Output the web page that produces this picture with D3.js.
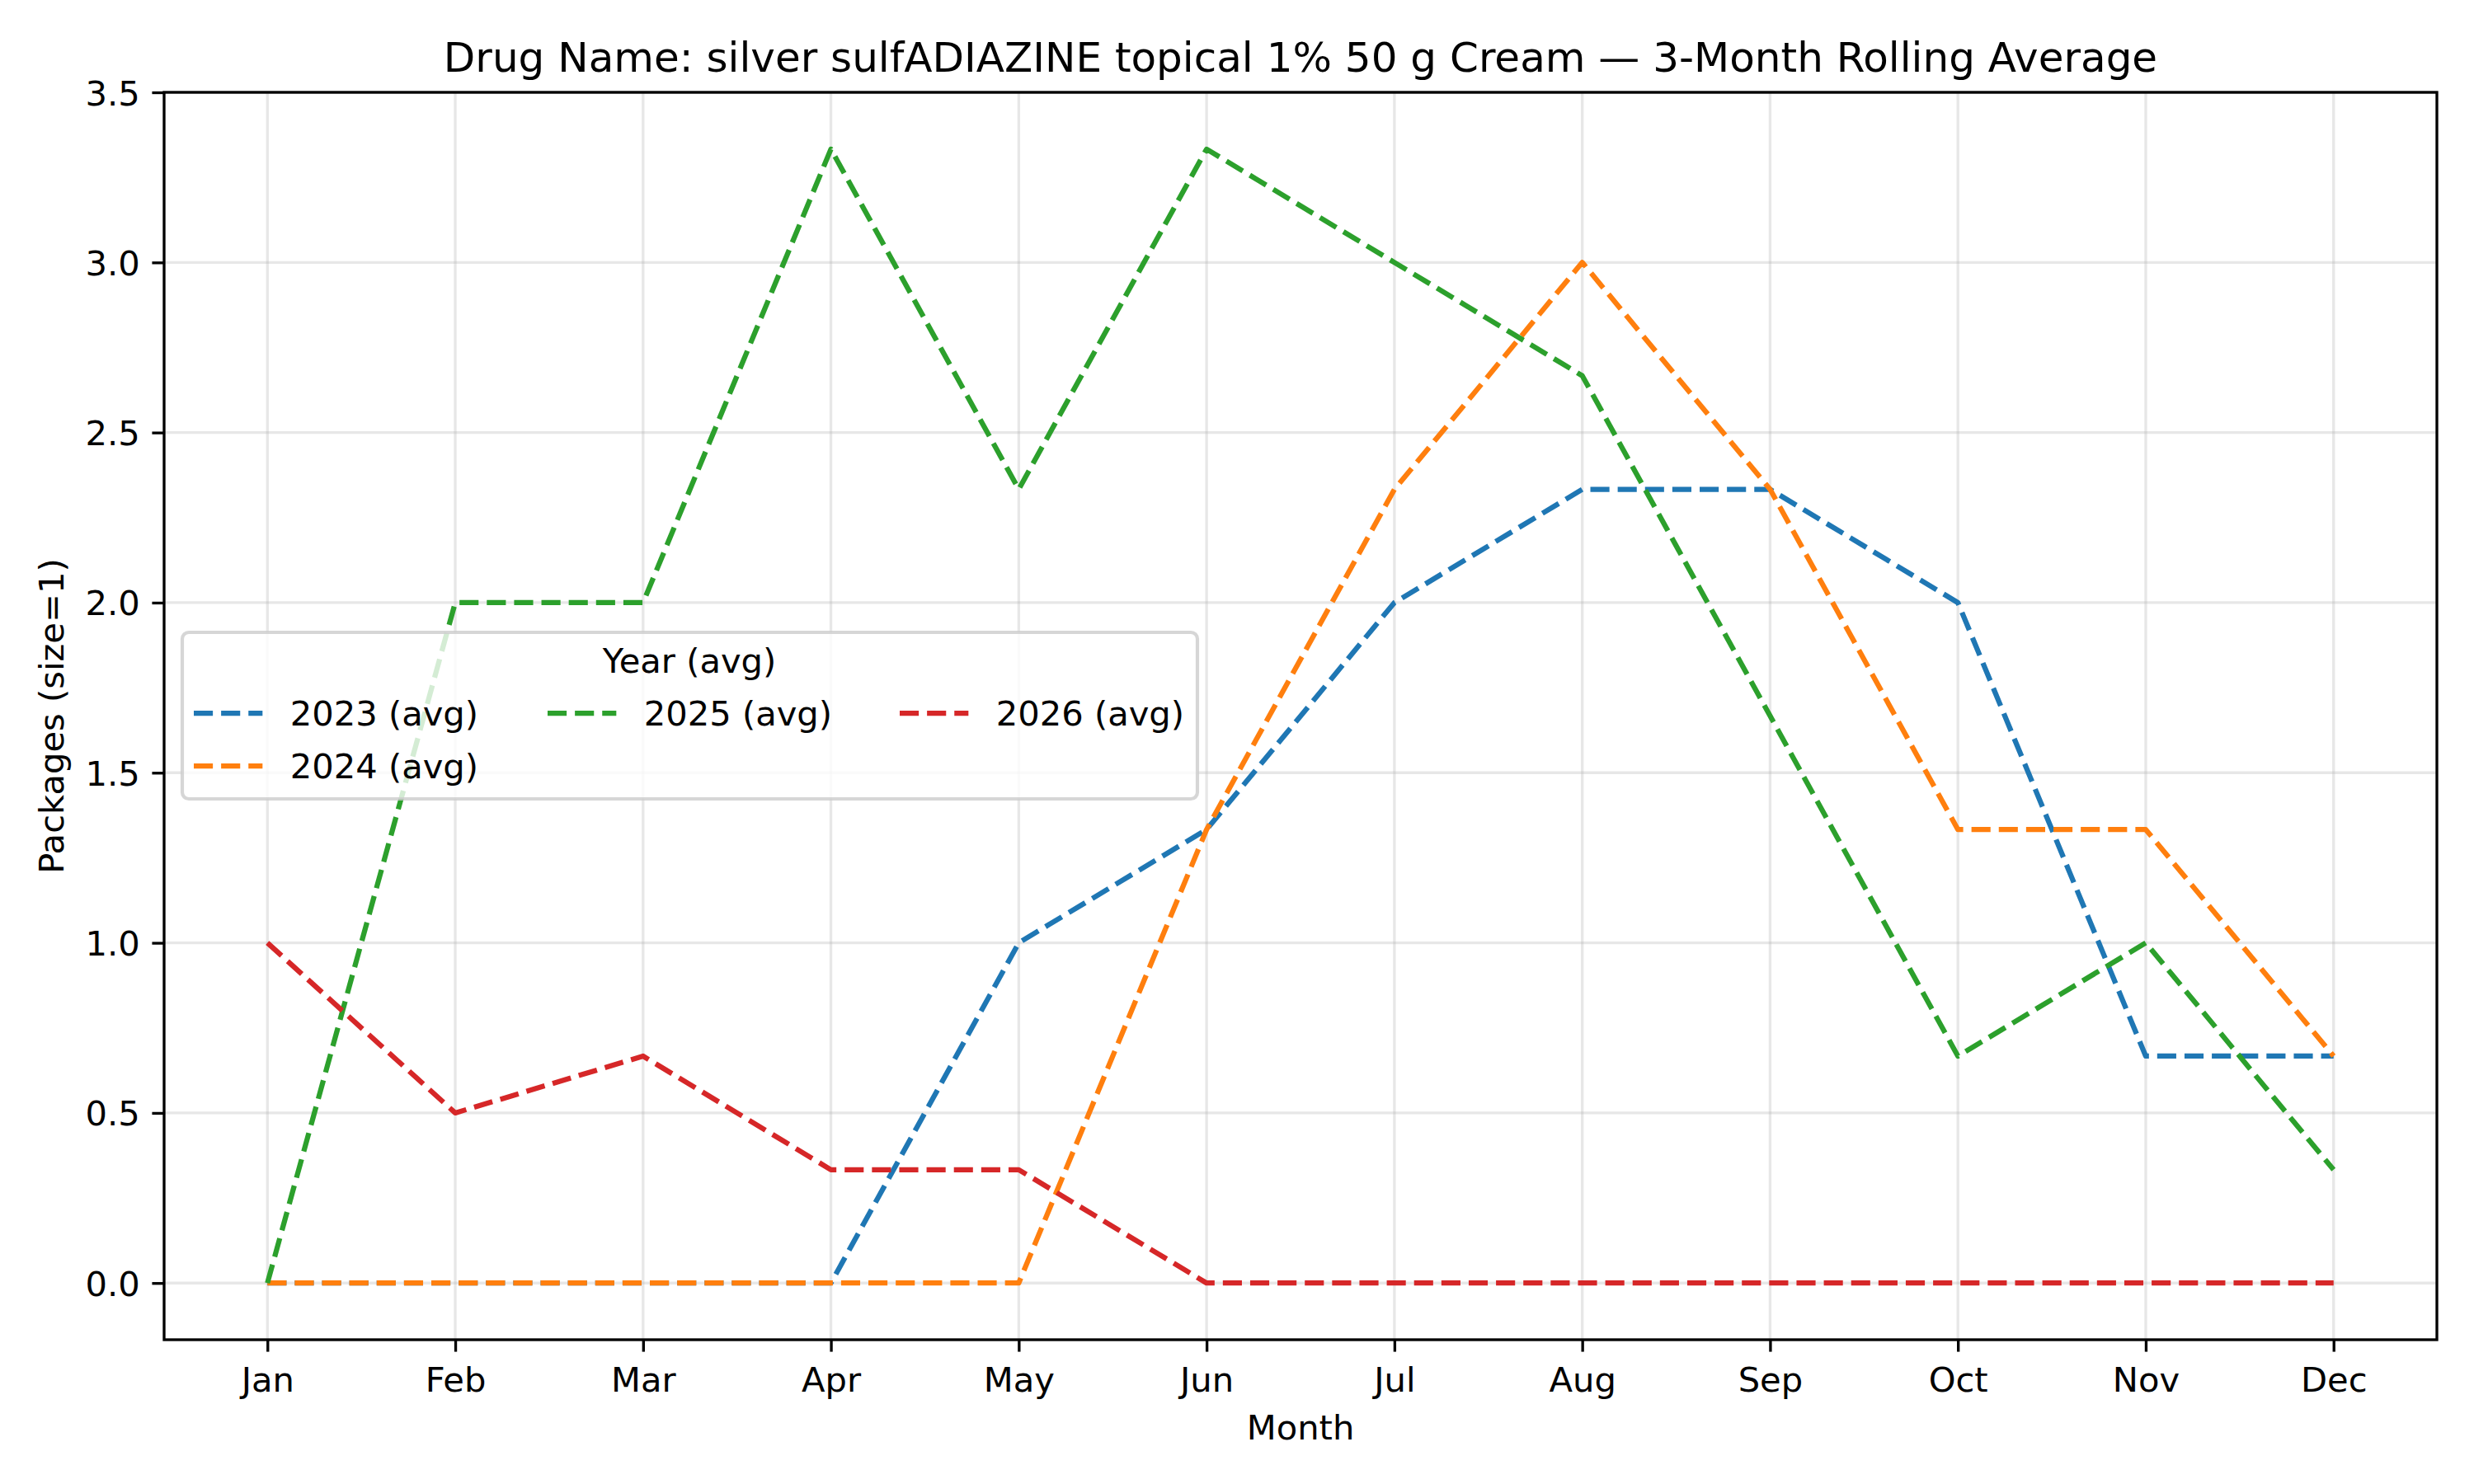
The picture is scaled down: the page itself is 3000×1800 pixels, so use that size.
<!DOCTYPE html>
<html>
<head>
<meta charset="utf-8">
<script src="https://cdn.jsdelivr.net/npm/d3@7"></script>
<style>
  html, body { margin: 0; padding: 0; background: #fff; }
  svg { display: block; font-family: "DejaVu Sans", sans-serif; }
</style>
</head>
<body>
<div id="chart"></div>
<script>
// data
const months = ["Jan", "Feb", "Mar", "Apr", "May", "Jun", "Jul", "Aug", "Sep", "Oct", "Nov", "Dec"];
const yTicks = [0, 0.5, 1.0, 1.5, 2.0, 2.5, 3.0, 3.5];

const avg2023 = [0, 0, 0, 0, 1.0, 1.333, 2.0, 2.333, 2.333, 2.0, 0.667, 0.667];
const avg2024 = [0, 0, 0, 0, 0, 1.333, 2.333, 3.0, 2.333, 1.333, 1.333, 0.667];
const avg2025 = [0, 2.0, 2.0, 3.333, 2.333, 3.333, 3.0, 2.667, 1.667, 0.667, 1.0, 0.333];
const avg2026 = [1.0, 0.5, 0.667, 0.333, 0.333, 0, 0, 0, 0, 0, 0, 0];

const seriesNames = ["2023 (avg)", "2024 (avg)", "2025 (avg)", "2026 (avg)"];
const seriesValues = [avg2023, avg2024, avg2025, avg2026];
const colors = ["#1f77b4", "#ff7f0e", "#2ca02c", "#d62728"];

const titleText = "Drug Name: silver sulfADIAZINE topical 1% 50 g Cream \u2014 3-Month Rolling Average";

// layout (300 dpi, 1pt = 4.1667px)
const W = 3000, H = 1800;
const pt = 300 / 72;
const plot = { left: 199, right: 2955, top: 112, bottom: 1625 };
const fs = 10 * pt;
const lw = 1.5 * pt;
const dash = `${3.7 * 1.5 * pt},${1.6 * 1.5 * pt}`;

const svg = d3.select("#chart").append("svg")
    .attr("width", W)
    .attr("height", H);

const x = d3.scaleLinear().domain([-0.55, 11.55]).range([plot.left, plot.right]);
const y = d3.scaleLinear().domain([-1 / 6, 3.5]).range([plot.bottom, plot.top]);

// grid
const grid = svg.append("g")
    .attr("stroke", "#b0b0b0")
    .attr("stroke-opacity", 0.3)
    .attr("stroke-width", 0.8 * pt);
grid.selectAll(".gx").data(months).join("line")
    .attr("x1", (d, i) => x(i)).attr("x2", (d, i) => x(i))
    .attr("y1", plot.top).attr("y2", plot.bottom);
grid.selectAll(".gy").data(yTicks).join("line")
    .attr("x1", plot.left).attr("x2", plot.right)
    .attr("y1", d => y(d)).attr("y2", d => y(d));

// lines
const line = d3.line()
    .x((d, i) => x(i))
    .y(d => y(d));

svg.append("g")
    .selectAll("path")
    .data(seriesValues)
    .join("path")
    .attr("d", d => line(d))
    .attr("fill", "none")
    .attr("stroke", (d, i) => colors[i])
    .attr("stroke-width", lw)
    .attr("stroke-dasharray", dash)
    .attr("stroke-linejoin", "round")
    .attr("stroke-linecap", "butt");

// axes
const tickLen = 3.5 * pt;
const xAxis = d3.axisBottom(x)
    .tickValues(d3.range(months.length))
    .tickFormat(i => months[i])
    .tickSize(tickLen)
    .tickPadding(tickLen);
const yAxis = d3.axisLeft(y)
    .tickValues(yTicks)
    .tickFormat(d3.format(".1f"))
    .tickSize(tickLen)
    .tickPadding(tickLen);

const gx = svg.append("g").attr("transform", `translate(0,${plot.bottom})`).call(xAxis);
const gy = svg.append("g").attr("transform", `translate(${plot.left},0)`).call(yAxis);
[gx, gy].forEach(g => {
  g.select(".domain").remove();
  g.selectAll(".tick line").attr("stroke", "#000").attr("stroke-width", 0.8 * pt);
  g.selectAll(".tick text")
      .attr("fill", "#000")
      .attr("font-family", "DejaVu Sans")
      .attr("font-size", fs);
});
gx.selectAll(".tick text").attr("dy", "0.8em");
gy.selectAll(".tick text").attr("dy", "0.36em");

// spines
svg.append("rect")
    .attr("x", plot.left).attr("y", plot.top)
    .attr("width", plot.right - plot.left)
    .attr("height", plot.bottom - plot.top)
    .attr("fill", "none")
    .attr("stroke", "#000")
    .attr("stroke-width", 0.8 * pt);

// titles
svg.append("text")
    .attr("x", (plot.left + plot.right) / 2)
    .attr("y", 87)
    .attr("text-anchor", "middle")
    .attr("font-size", 12 * pt)
    .text(titleText);

svg.append("text")
    .attr("x", (plot.left + plot.right) / 2)
    .attr("y", 1746)
    .attr("text-anchor", "middle")
    .attr("font-size", fs)
    .text("Month");

svg.append("text")
    .attr("transform", `translate(77,${(plot.top + plot.bottom) / 2}) rotate(-90)`)
    .attr("text-anchor", "middle")
    .attr("font-size", fs)
    .text("Packages (size=1)");

// legend (3 columns, filled column-wise)
const legend = svg.append("g");
legend.append("rect")
    .attr("x", 221).attr("y", 767)
    .attr("width", 1231).attr("height", 202)
    .attr("rx", 8).attr("ry", 8)
    .attr("fill", "rgba(255,255,255,0.8)")
    .attr("stroke", "rgba(204,204,204,0.8)")
    .attr("stroke-width", 1 * pt);

legend.append("text")
    .attr("x", 836).attr("y", 816)
    .attr("text-anchor", "middle")
    .attr("font-size", fs)
    .text("Year (avg)");

const colX = [235, 664, 1091];
const rowY = [865, 929];
const slots = [[0, 0], [0, 1], [1, 0], [2, 0]];
const item = legend.selectAll("g.item")
    .data(seriesNames)
    .join("g")
    .attr("transform", (d, i) => `translate(${colX[slots[i][0]]},${rowY[slots[i][1]]})`);
item.append("line")
    .attr("x1", 0).attr("x2", 2 * fs)
    .attr("y1", 0).attr("y2", 0)
    .attr("stroke", (d, i) => colors[i])
    .attr("stroke-width", lw)
    .attr("stroke-dasharray", dash);
item.append("text")
    .attr("x", 2.8 * fs)
    .attr("y", 15)
    .attr("font-size", fs)
    .text(d => d);
</script>
</body>
</html>
